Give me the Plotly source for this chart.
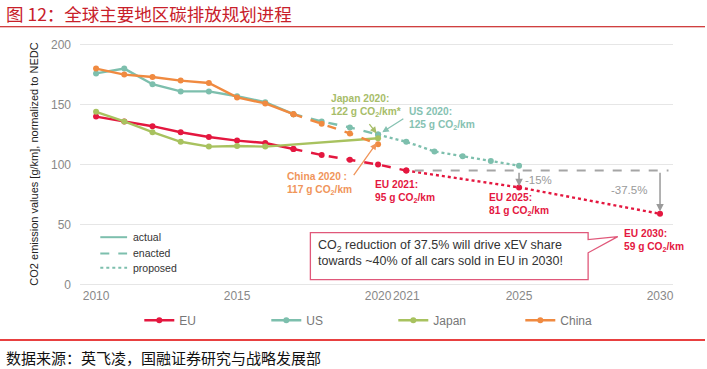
import plotly.graph_objects as go

# ---- data ----
years_actual = [2010, 2011, 2012, 2013, 2014, 2015, 2016, 2017]
eu_actual = [140, 136, 132, 127, 123, 120, 118, 113]
eu_enacted_years = [2017, 2018, 2019, 2020, 2021]
eu_enacted = [113, 108, 104, 100, 95]
eu_proposed_years = [2021, 2025, 2030]
eu_proposed = [95, 81, 59]

us_actual = [176, 180, 167, 161, 161, 157, 152, 142]
us_enacted_years = [2017, 2018, 2019, 2020]
us_enacted = [142, 136, 131, 125]
us_proposed_years = [2020, 2021, 2022, 2023, 2024, 2025]
us_proposed = [125, 119, 111, 107, 103, 99]

japan_years = [2010, 2011, 2012, 2013, 2014, 2015, 2016, 2020]
japan_actual = [144, 136, 127, 119, 115, 115.5, 115, 122]

china_actual = [180, 175, 173, 170, 168, 156, 151, 142]
china_enacted_years = [2017, 2018, 2019, 2020]
china_enacted = [142, 134, 126, 117]

tick_years = [2010, 2015, 2020, 2021, 2025, 2030]
y_ticks = [0, 50, 100, 150, 200]

C_EU = "#e4173f"
C_US = "#7dbfad"
C_JP = "#a8c25f"
C_CN = "#f08a40"

FONT = "Liberation Sans, Arial, sans-serif"
CJK = "Noto Sans CJK SC"

fig = go.Figure()

def add(x, y, color, dash, name, legend=False, marker=True):
    fig.add_trace(go.Scatter(
        x=x, y=y, name=name, showlegend=legend, legendgroup=name,
        mode="lines+markers" if marker else "lines",
        line=dict(color=color, width=2.4, dash=dash),
        marker=dict(color=color, size=6),
        hoverinfo="skip"))

add(years_actual, eu_actual, C_EU, "solid", "EU", True)
add(eu_enacted_years, eu_enacted, C_EU, "dash", "EU")
add(eu_proposed_years, eu_proposed, C_EU, "dot", "EU")
add(years_actual, us_actual, C_US, "solid", "US", True)
add(us_enacted_years, us_enacted, C_US, "dash", "US")
add(us_proposed_years, us_proposed, C_US, "dot", "US")
add(japan_years, japan_actual, C_JP, "solid", "Japan", True)
add(years_actual, china_actual, C_CN, "solid", "China", True)
add(china_enacted_years, china_enacted, C_CN, "dash", "China")

shapes = []
annotations = []

# reference line (EU 2021 level) and reductions
shapes.append(dict(type="line", xref="x", yref="y", x0=2021.3, x1=2030.3, y0=95, y1=95,
                   line=dict(color="#a5a5a5", width=2, dash="dash")))
for xx, y1 in [(2025, 82), (2030, 61)]:
    annotations.append(dict(x=xx, y=y1, ax=xx, ay=94.5, xref="x", yref="y", axref="x", ayref="y",
                            text="", showarrow=True, arrowhead=2, arrowsize=1, arrowwidth=1.5,
                            arrowcolor="#9a9a9a"))
annotations.append(dict(x=2025.15, y=87.5, xref="x", yref="y", text="-15%", showarrow=False,
                        xanchor="left", font=dict(family=FONT, size=11.5, color="#9a9a9a")))
annotations.append(dict(x=2029.6, y=79, xref="x", yref="y", text="-37.5%", showarrow=False,
                        xanchor="right", font=dict(family=FONT, size=11.5, color="#9a9a9a")))

# labels
def label(x, y, text, color, anchor="left"):
    annotations.append(dict(x=x, y=y, xref="x", yref="y", text=text, showarrow=False,
                            xanchor=anchor, yanchor="middle", align="left",
                            font=dict(family=FONT, size=10.2, color=color)))

label(2018.27, 149, "<b>Japan 2020:<br>122 g CO<sub>2</sub>/km*</b>", "#a7bd69")
label(2021.03, 138, "<b>US 2020:<br>125 g CO<sub>2</sub>/km</b>", "#86c2b2")
label(2016.7, 84, "<b>China 2020 :<br>117 g CO<sub>2</sub>/km</b>", "#f0955a")
label(2019.82, 77.5, "<b>EU 2021:<br>95 g CO<sub>2</sub>/km</b>", C_EU)
label(2023.87, 66, "<b>EU 2025:<br>81 g CO<sub>2</sub>/km</b>", C_EU)
label(2028.65, 36, "<b>EU 2030:<br>59 g CO<sub>2</sub>/km</b>", C_EU)

# pointer arrows
for (x, y, ax, ay, col) in [(2019.95, 126, 2019.65, 135, "#a7bd69"),
                            (2020.15, 127, 2020.95, 139, "#86c2b2"),
                            (2019.95, 118, 2019.1, 90, "#f0955a")]:
    annotations.append(dict(x=x, y=y, ax=ax, ay=ay, xref="x", yref="y", axref="x", ayref="y",
                            text="", showarrow=True, arrowhead=2, arrowsize=1, arrowwidth=1.3,
                            arrowcolor=col))

# callout box
shapes.append(dict(type="path", xref="x", yref="y",
                   path="M 2017.6 43.3 L 2027.45 43.3 L 2027.45 37.5 L 2028.5 40 L 2027.45 26.5 "
                        "L 2027.45 4.2 L 2017.6 4.2 Z",
                   line=dict(color="#e0587a", width=1.3), fillcolor="rgba(255,255,255,0.95)"))
annotations.append(dict(x=2017.8, y=26, xref="x", yref="y", xanchor="left", yanchor="middle",
                        align="left", showarrow=False,
                        text="CO<sub>2</sub> reduction of 37.5% will drive xEV share<br>"
                             "towards ~40% of all cars sold in EU in 2030!",
                        font=dict(family=FONT, size=12.5, color="#333333")))

# style legend (actual / enacted / proposed)
for yy, dash, txt in [(39.5, "solid", "actual"), (26, "dash", "enacted"), (14, "dot", "proposed")]:
    shapes.append(dict(type="line", xref="x", yref="y", x0=2010.15, x1=2011.1, y0=yy, y1=yy,
                       line=dict(color=C_US, width=2, dash=dash)))
    annotations.append(dict(x=2011.25, y=yy, xref="x", yref="y", text=txt, showarrow=False,
                            xanchor="left", yanchor="middle",
                            font=dict(family=FONT, size=10.5, color="#333333")))

# page decorations: title, rules, source
shapes.append(dict(type="line", xref="paper", yref="paper", x0=-0.135, x1=1.054,
                   y0=1.058, y1=1.058, line=dict(color="#c00000", width=1.2)))
shapes.append(dict(type="line", xref="paper", yref="paper", x0=-0.135, x1=1.054,
                   y0=-0.215, y1=-0.215, line=dict(color="#e00000", width=1.5)))
annotations.append(dict(x=-0.128, y=1.113, xref="paper", yref="paper", xanchor="left", yanchor="middle",
                        text="图 12：全球主要地区碳排放规划进程", showarrow=False,
                        font=dict(family=CJK, size=17.5, color="#c8202a")))
annotations.append(dict(x=-0.128, y=-0.285, xref="paper", yref="paper", xanchor="left", yanchor="middle",
                        text="数据来源：英飞凌，国融证券研究与战略发展部", showarrow=False,
                        font=dict(family=CJK, size=15, color="#111111")))

fig.update_layout(
    width=707, height=369,
    margin=dict(l=80, r=34, t=41, b=82, autoexpand=False),
    paper_bgcolor="white", plot_bgcolor="white",
    font=dict(family=FONT, size=12, color="#888888"),
    shapes=shapes, annotations=annotations,
    showlegend=True,
    legend=dict(orientation="h", x=0.1, y=-0.135, xanchor="left", yanchor="middle",
                entrywidth=82, entrywidthmode="pixels", itemwidth=30,
                font=dict(family=FONT, size=12, color="#777777"), bgcolor="rgba(0,0,0,0)"),
)
fig.update_xaxes(range=[2009.43, 2030.46], tickvals=tick_years, tickangle=0,
                 ticktext=[str(t) for t in tick_years], showgrid=False, zeroline=False,
                 showline=False, tickfont=dict(family=FONT, size=12, color="#888888"))
fig.update_yaxes(range=[-2, 203], tickvals=y_ticks, showgrid=True, gridcolor="#e6e6e6",
                 gridwidth=1.2, zeroline=False, showline=False, ticklabelstandoff=8,
                 title=dict(text="CO2 emission values [g/km], normalized to NEDC",
                            font=dict(family=FONT, size=11, color="#222222"), standoff=10),
                 tickfont=dict(family=FONT, size=12, color="#888888"))

fig.write_html("out.html", config={"displayModeBar": False},
               post_script="document.body.style.margin='0';")
